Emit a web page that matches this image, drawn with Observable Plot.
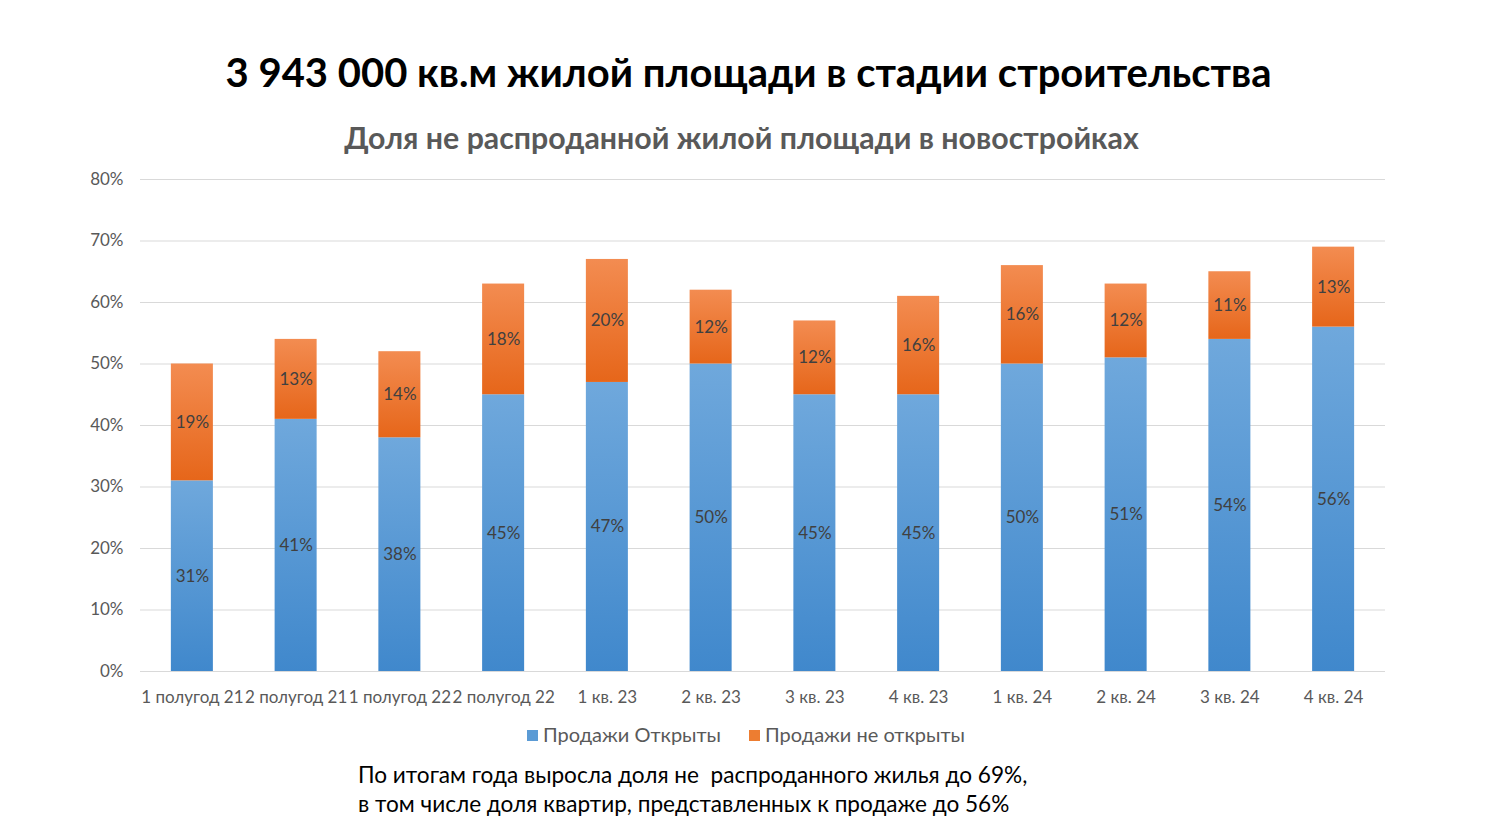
<!DOCTYPE html>
<html>
<head>
<meta charset="utf-8">
<script src="https://cdn.jsdelivr.net/npm/d3@7"></script>
<script src="https://cdn.jsdelivr.net/npm/@observablehq/plot@0.6"></script>
<style>
  html, body { margin: 0; padding: 0; background: #fff; width: 1485px; height: 830px; overflow: hidden; position: relative; font-family: Lato, "Open Sans", sans-serif; }
  #title { position: absolute; left: 0; width: 1497px; top: 48px; text-align: center; font-size: 40px; font-weight: bold; color: #000; }
  #subtitle { position: absolute; left: 0; width: 1483px; top: 119px; text-align: center; font-size: 30.3px; font-weight: bold; color: #595959; }
  #chart { position: absolute; left: 0; top: 160px; }
  #legend { position: absolute; left: 0; width: 1492px; top: 722px; text-align: center; font-size: 20px; color: #595959; }
  #legend span.sw { display: inline-block; width: 11px; height: 11px; margin-right: 5px; vertical-align: 1px; }
  #legend .item { margin: 0 14px; }
  #caption { position: absolute; left: 358px; top: 760px; font-size: 22.6px; line-height: 29px; color: #000; }
</style>
</head>
<body>
<div id="title">3 943 000 кв.м жилой площади в стадии строительства</div>
<div id="subtitle">Доля не распроданной жилой площади в новостройках</div>
<div id="chart"></div>
<div id="legend"><span class="item"><span class="sw" style="background:#5b9bd5"></span>Продажи Открыты</span><span class="item"><span class="sw" style="background:#ed7d31"></span>Продажи не открыты</span></div>
<div id="caption">По итогам года выросла доля не&nbsp; распроданного жилья до 69%,<br>в том числе доля квартир, представленных к продаже до 56%</div>
<script>
const categories = ["1 полугод 21","2 полугод 21","1 полугод 22","2 полугод 22","1 кв. 23","2 кв. 23","3 кв. 23","4 кв. 23","1 кв. 24","2 кв. 24","3 кв. 24","4 кв. 24"];
const salesOpen = [31,41,38,45,47,50,45,45,50,51,54,56];
const salesNotOpen = [19,13,14,18,20,12,12,16,16,12,11,13];
const seriesNames = ["Продажи Открыты","Продажи не открыты"];
const yTicks = [0,10,20,30,40,50,60,70,80];

const data = [];
categories.forEach((c, i) => {
  data.push({cat: c, series: seriesNames[0], value: salesOpen[i], base: 0});
  data.push({cat: c, series: seriesNames[1], value: salesNotOpen[i], base: salesOpen[i]});
});

const defs = () => {
  const g = d3.create("svg:defs");
  const b = g.append("linearGradient").attr("id", "gBlue").attr("x1", 0).attr("y1", 0).attr("x2", 0).attr("y2", 1);
  b.append("stop").attr("offset", "0%").attr("stop-color", "#6fa8dc");
  b.append("stop").attr("offset", "100%").attr("stop-color", "#4088cc");
  const o = g.append("linearGradient").attr("id", "gOrange").attr("x1", 0).attr("y1", 0).attr("x2", 0).attr("y2", 1);
  o.append("stop").attr("offset", "0%").attr("stop-color", "#f38c51");
  o.append("stop").attr("offset", "100%").attr("stop-color", "#e6661a");
  return g.node();
};

const chart = Plot.plot({
  width: 1485,
  height: 560,
  marginTop: 19,
  marginBottom: 49,
  marginLeft: 140,
  marginRight: 100,
  style: {fontFamily: "Lato, 'Open Sans', sans-serif", fontSize: "17px", color: "#595959", background: "#fff"},
  x: {domain: categories, paddingInner: 0.595, paddingOuter: 0.2975, round: false, label: null},
  y: {domain: [0, 80], ticks: yTicks, tickFormat: d => d + "%", label: null},
  marks: [
    defs,
    Plot.gridY(yTicks, {stroke: "#d9d9d9", strokeOpacity: 1, strokeWidth: 1}),
    Plot.barY(data, {x: "cat", y1: "base", y2: d => d.base + d.value, fill: d => d.series === seriesNames[0] ? "url(#gBlue)" : "url(#gOrange)"}),
    Plot.text(data, {x: "cat", y: d => d.base + d.value / 2, text: d => d.value + "%", fill: "#404040", fontSize: 17}),
    Plot.axisX({tickSize: 0, tickPadding: 19, fontSize: 17, fill: "#595959"}),
    Plot.axisY(yTicks, {tickSize: 0, tickPadding: 17, tickFormat: d => d + "%", fontSize: 17, fill: "#595959"})
  ]
});
document.getElementById("chart").appendChild(chart);
</script>
</body>
</html>
